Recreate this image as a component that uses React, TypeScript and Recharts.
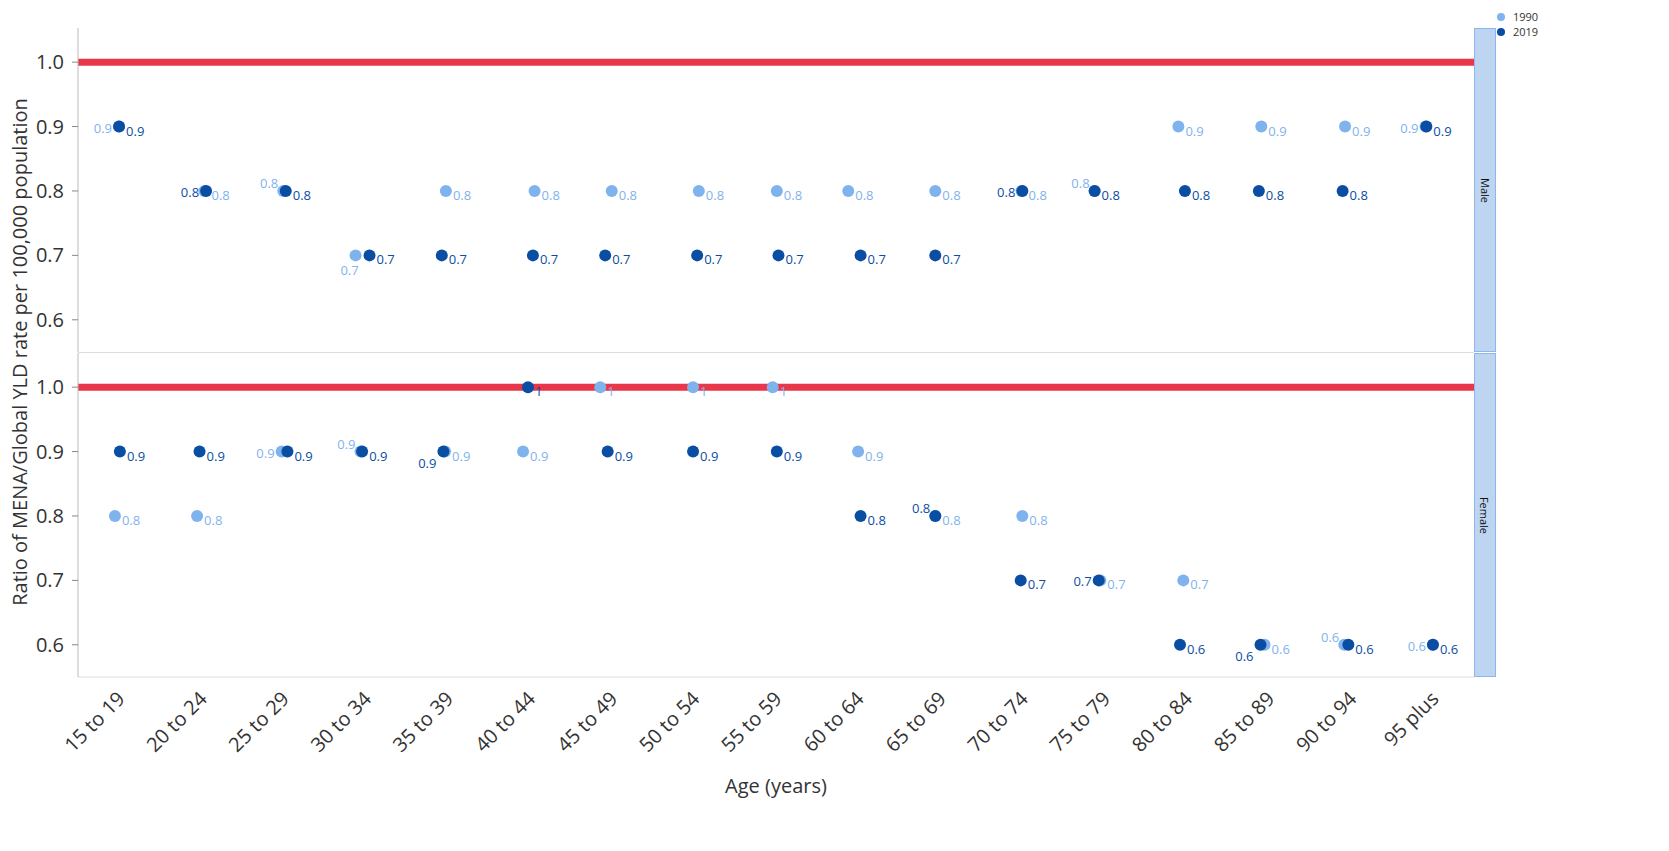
import { ReferenceLine, Scatter, ScatterChart, XAxis, YAxis } from "recharts";

document.body.style.margin = "0";

const AGES = [
  "15 to 19", "20 to 24", "25 to 29", "30 to 34", "35 to 39", "40 to 44", "45 to 49", "50 to 54", "55 to 59",
  "60 to 64", "65 to 69", "70 to 74", "75 to 79", "80 to 84", "85 to 89", "90 to 94", "95 plus",
];

const MALE_1990 = [0.9, 0.8, 0.8, 0.7, 0.8, 0.8, 0.8, 0.8, 0.8, 0.8, 0.8, 0.8, 0.8, 0.9, 0.9, 0.9, 0.9];
const MALE_2019 = [0.9, 0.8, 0.8, 0.7, 0.7, 0.7, 0.7, 0.7, 0.7, 0.7, 0.7, 0.8, 0.8, 0.8, 0.8, 0.8, 0.9];
const FEMALE_1990 = [0.8, 0.8, 0.9, 0.9, 0.9, 0.9, 1, 1, 1, 0.9, 0.8, 0.8, 0.7, 0.7, 0.6, 0.6, 0.6];
const FEMALE_2019 = [0.9, 0.9, 0.9, 0.9, 0.9, 1, 0.9, 0.9, 0.9, 0.8, 0.8, 0.7, 0.7, 0.6, 0.6, 0.6, 0.6];

// jitter, in category units
const JIT_M90 = [0, 0.04, 0, -0.12, -0.02, 0.06, 0, 0.06, 0.01, -0.12, -0.06, -0.01, -0.12, -0.1, -0.09, -0.07, -0.09];
const JIT_M19 = [0, 0.06, 0.03, 0.05, -0.07, 0.04, -0.08, 0.04, 0.03, 0.03, -0.06, 0, -0.12, -0.02, -0.12, -0.1, -0.08];
const JIT_F90 = [-0.05, -0.05, -0.02, -0.06, -0.03, -0.08, -0.14, -0.01, -0.04, 0, -0.06, 0, -0.05, -0.04, -0.05, -0.08, 0];
const JIT_F19 = [0.01, -0.02, 0.05, -0.04, -0.05, -0.02, -0.05, -0.01, 0.01, 0.03, -0.06, -0.02, -0.07, -0.08, -0.1, -0.03, 0];

// value-label side for each point: r = right, l = left, ul = up-left, dl = down-left, d = below
const LBL_M90 = ["l", "r", "ul", "d", "r", "r", "r", "r", "r", "r", "r", "r", "ul", "r", "r", "r", "l"];
const LBL_M19 = ["r", "l", "r", "r", "r", "r", "r", "r", "r", "r", "r", "l", "r", "r", "r", "r", "r"];
const LBL_F90 = ["r", "r", "l", "ul", "r", "r", "r", "r", "r", "r", "r", "r", "r", "r", "r", "ul", "l"];
const LBL_F19 = ["r", "r", "r", "r", "dl", "r", "r", "r", "r", "r", "ul", "r", "l", "r", "dl", "r", "r"];

const Y_TICKS = [0.6, 0.7, 0.8, 0.9, 1.0];
const LIGHT = "#7fb3ee";
const DARK = "#0a4ea3";
const FONT = '"Open Sans", "Noto Sans", sans-serif';

const pts = (vals: number[], jit: number[], lbl: string[]) =>
  vals.map((v, i) => ({ x: i + jit[i], y: v, side: lbl[i] }));

const OFFS: Record<string, [number, number, string]> = {
  r: [7, 9, "start"],
  l: [-7, 6, "end"],
  ul: [-5, -3, "end"],
  dl: [-7, 16, "end"],
  d: [-6, 20, "middle"],
};

const dot = (color: string) => (p: any) => {
  const [dx, dy, anchor] = OFFS[p.payload.side] ?? OFFS.r;
  return (
    <g>
      <circle cx={p.cx} cy={p.cy} r={6} fill={color} />
      <text x={p.cx + dx} y={p.cy + dy} fontSize={13} fill={color} fontFamily={FONT} textAnchor={anchor}>
        {p.payload.y === 1 ? "1" : p.payload.y.toFixed(1)}
      </text>
    </g>
  );
};

const yTick = (p: any) => (
  <text x={p.x - 6} y={p.y} dy={7} textAnchor="end" fontSize={20} fill="#333" fontFamily={FONT}>
    {Number(p.payload.value).toFixed(1)}
  </text>
);

const xTick = (p: any) => (
  <text
    x={p.x}
    y={p.y + 8}
    textAnchor="end"
    fontSize={20}
    fill="#333"
    fontFamily={FONT}
    transform={`rotate(-45 ${p.x} ${p.y + 8})`}
    dy={10}
  >
    {AGES[p.payload.value]}
  </text>
);

function Panel({ a, b, showX, height }: { a: any[]; b: any[]; showX: boolean; height: number }) {
  return (
    <ScatterChart width={1474} height={height} margin={{ top: 0, right: 0, bottom: 0, left: 0 }}>
      <XAxis
        type="number"
        dataKey="x"
        domain={[-0.5, 16.5]}
        ticks={AGES.map((_, i) => i)}
        hide={!showX}
        height={showX ? 100 : 0}
        tick={xTick}
        tickLine={false}
        axisLine={{ stroke: "#ddd" }}
        interval={0}
      />
      <YAxis
        type="number"
        dataKey="y"
        domain={[0.55, 1.053]}
        ticks={Y_TICKS}
        width={78}
        tick={yTick}
        tickLine={{ stroke: "#888" }}
        axisLine={{ stroke: "#bbb" }}
        allowDataOverflow
      />
      <ReferenceLine y={1} stroke="#e8374b" strokeWidth={7} />
      <Scatter data={a} shape={dot(LIGHT)} isAnimationActive={false} />
      <Scatter data={b} shape={dot(DARK)} isAnimationActive={false} />
    </ScatterChart>
  );
}

const strip = (top: number, h: number, label: string) => (
  <div
    style={{
      position: "absolute", left: 1474, top, width: 22, height: h, background: "#bdd5f1",
      border: "1px solid #8db6ea", boxSizing: "border-box", display: "flex", alignItems: "center", justifyContent: "center",
    }}
  >
    <span style={{ transform: "rotate(90deg)", fontSize: 11, fontFamily: FONT, color: "#111" }}>{label}</span>
  </div>
);

export default function App() {
  return (
    <div style={{ position: "relative", width: 1669, height: 851, background: "#fff", fontFamily: FONT }}>
      <div style={{ position: "absolute", left: 0, top: 28 }}>
        <Panel a={pts(MALE_1990, JIT_M90, LBL_M90)} b={pts(MALE_2019, JIT_M19, LBL_M19)} showX={false} height={324} />
      </div>
      <div style={{ position: "absolute", left: 78, top: 352, width: 1396, height: 1, background: "#ddd" }} />
      <div style={{ position: "absolute", left: 0, top: 353 }}>
        <Panel a={pts(FEMALE_1990, JIT_F90, LBL_F90)} b={pts(FEMALE_2019, JIT_F19, LBL_F19)} showX height={424} />
      </div>
      {strip(28, 324, "Male")}
      {strip(353, 324, "Female")}
      <div
        style={{
          position: "absolute", left: 19, top: 352, transform: "translate(-50%,-50%) rotate(-90deg)",
          whiteSpace: "nowrap", fontSize: 20, color: "#333",
        }}
      >
        Ratio of MENA/Global YLD rate per 100,000 population
      </div>
      <div style={{ position: "absolute", left: 776, top: 772, transform: "translateX(-50%)", fontSize: 20, color: "#333" }}>
        Age (years)
      </div>
      <div style={{ position: "absolute", left: 1497, top: 9, fontSize: 11, color: "#333", lineHeight: "15px" }}>
        <div><span style={{ display: "inline-block", width: 8, height: 8, borderRadius: 4, background: LIGHT, marginRight: 8 }} />1990</div>
        <div><span style={{ display: "inline-block", width: 8, height: 8, borderRadius: 4, background: DARK, marginRight: 8 }} />2019</div>
      </div>
    </div>
  );
}
